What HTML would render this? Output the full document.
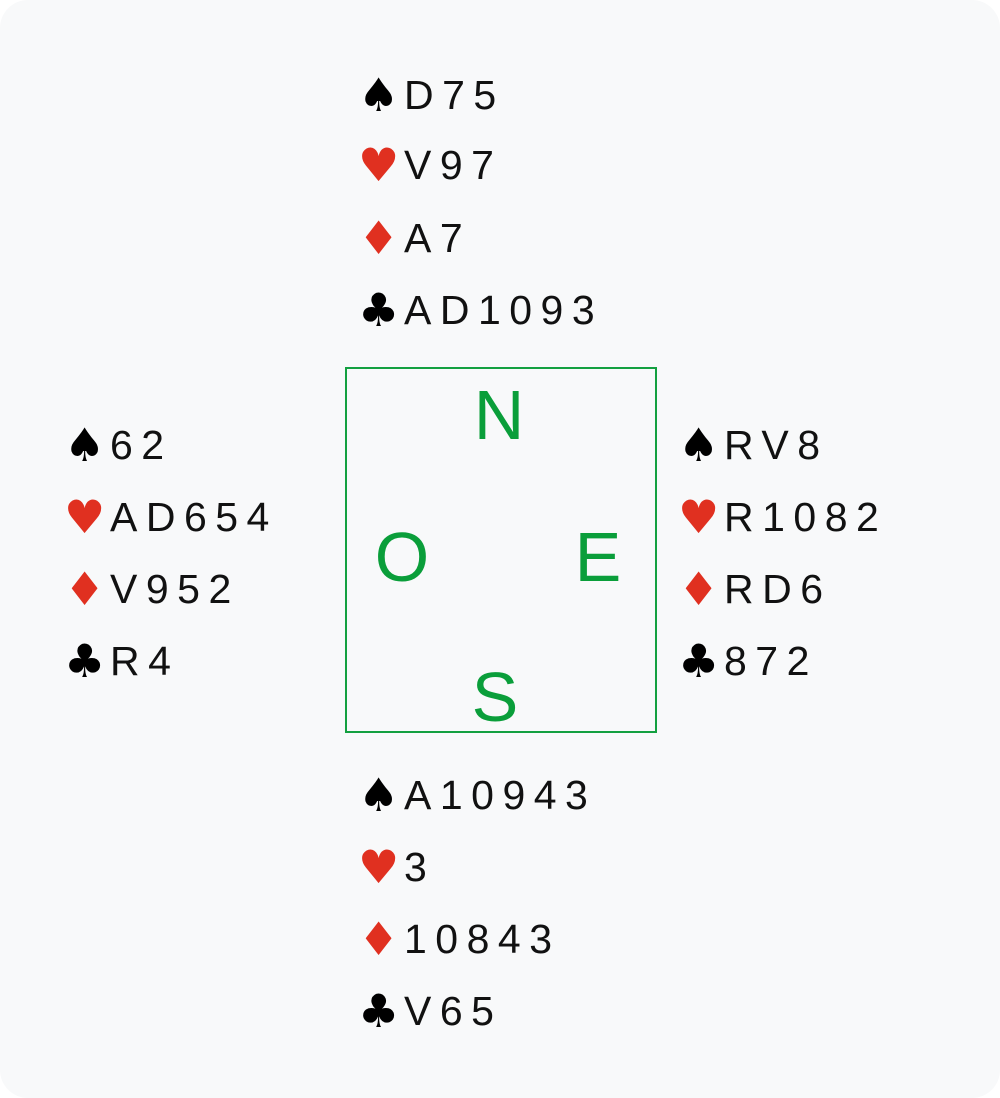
<!DOCTYPE html>
<html><head><meta charset="utf-8"><style>
html,body{margin:0;padding:0;background:#fff}
#c{position:relative;width:1000px;height:1098px;background:#f8f9fa;border-radius:28px;overflow:hidden;font-family:"Liberation Sans","DejaVu Sans",sans-serif}
.l{position:absolute;font-size:41px;line-height:50px;height:50px;letter-spacing:8.5px;color:#111;white-space:nowrap}
.s{display:inline-block;width:44px;letter-spacing:0;font-family:"DejaVu Sans",sans-serif;font-size:46px;vertical-align:top;margin-left:-2px;margin-right:2px}
.r{color:#e03020}
.k{color:#000}
#box{position:absolute;left:345px;top:367px;width:308px;height:362px;border:2px solid #13a040}
.d{position:absolute;color:#0a9e3a;font-size:70px;line-height:80px;width:100px;text-align:center;margin-left:-50px}
</style></head><body><div id="c">
<div class="l" style="left:360px;top:70px"><span class="s k">♠</span>D75</div>
<div class="l" style="left:360px;top:140px"><span class="s r">♥</span>V97</div>
<div class="l" style="left:360px;top:213px"><span class="s r">♦</span>A7</div>
<div class="l" style="left:360px;top:285px"><span class="s k">♣</span>AD1093</div>

<div class="l" style="left:66px;top:420px"><span class="s k">♠</span>62</div>
<div class="l" style="left:66px;top:492px"><span class="s r">♥</span>AD654</div>
<div class="l" style="left:66px;top:564px"><span class="s r">♦</span>V952</div>
<div class="l" style="left:66px;top:636px"><span class="s k">♣</span>R4</div>

<div class="l" style="left:680px;top:420px"><span class="s k">♠</span>RV8</div>
<div class="l" style="left:680px;top:492px"><span class="s r">♥</span>R1082</div>
<div class="l" style="left:680px;top:564px"><span class="s r">♦</span>RD6</div>
<div class="l" style="left:680px;top:636px"><span class="s k">♣</span>872</div>

<div class="l" style="left:360px;top:770px"><span class="s k">♠</span>A10943</div>
<div class="l" style="left:360px;top:842px"><span class="s r">♥</span>3</div>
<div class="l" style="left:360px;top:914px"><span class="s r">♦</span>10843</div>
<div class="l" style="left:360px;top:986px"><span class="s k">♣</span>V65</div>

<div id="box"></div>
<div class="d" style="left:499px;top:375px">N</div>
<div class="d" style="left:402px;top:517px">O</div>
<div class="d" style="left:598px;top:517px">E</div>
<div class="d" style="left:495px;top:657px">S</div>
</div></body></html>
